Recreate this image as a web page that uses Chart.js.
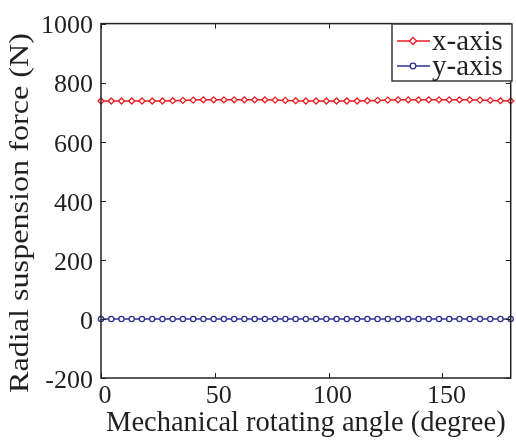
<!DOCTYPE html>
<html>
<head>
<meta charset="utf-8">
<script src="https://cdn.jsdelivr.net/npm/chart.js@4"></script>
<style>
  html, body { margin: 0; padding: 0; background: #fff; }
  #wrap { width: 516px; height: 441px; }
</style>
</head>
<body>
<div id="wrap"><canvas id="forceChart" width="516" height="441"></canvas></div>
<script>
// Radial suspension force vs mechanical rotating angle
const angles = [0, 4.5, 9, 13.5, 18, 22.5, 27, 31.5, 36, 40.5, 45, 49.5, 54, 58.5, 63, 67.5, 72, 76.5, 81, 85.5,
    90, 94.5, 99, 103.5, 108, 112.5, 117, 121.5, 126, 130.5, 135, 139.5, 144, 148.5, 153, 157.5, 162, 166.5, 171, 175.5, 180];
const forceX = [738, 738, 738, 738, 738, 738, 738, 739, 740, 741, 742, 742, 742, 742, 742, 742, 742, 741, 740, 739,
    738, 738, 738, 738, 738, 738, 739, 740, 741, 742, 742, 742, 742, 742, 742, 742, 742, 741, 740, 739, 738];
const forceY = [0, 0, 0, 0, 0, 0, 0, 0, 0, 0, 0, 0, 0, 0, 0, 0, 0, 0, 0, 0,
    0, 0, 0, 0, 0, 0, 0, 0, 0, 0, 0, 0, 0, 0, 0, 0, 0, 0, 0, 0, 0];
const xTicks = [0, 50, 100, 150];
const yTicks = [-200, 0, 200, 400, 600, 800, 1000];
const seriesNames = ['x-axis', 'y-axis'];
const yTitle = 'Radial suspension force (N)';

const FONT = '"Liberation Serif", "Times New Roman", serif';
const INK = '#231f20';
const RED = '#ed1c24';
const BLUE = '#2e3192';

// box around the plot + inward ticks on all four sides
const frameTicks = {
    id: 'frameTicks',
    afterDatasetsDraw(chart) {
        const { ctx, chartArea: a, scales } = chart;
        ctx.save();
        ctx.strokeStyle = INK;
        ctx.lineWidth = 1.5;
        ctx.strokeRect(a.left, a.top, a.right - a.left, a.bottom - a.top);
        ctx.lineWidth = 1;
        ctx.beginPath();
        xTicks.forEach((v) => {
            const px = Math.round(scales.x.getPixelForValue(v)) + 0.5;
            ctx.moveTo(px, a.bottom); ctx.lineTo(px, a.bottom - 5);
            ctx.moveTo(px, a.top); ctx.lineTo(px, a.top + 5);
        });
        yTicks.forEach((v) => {
            const py = Math.round(scales.y.getPixelForValue(v)) + 0.5;
            ctx.moveTo(a.left, py); ctx.lineTo(a.left + 5, py);
            ctx.moveTo(a.right, py); ctx.lineTo(a.right - 5, py);
        });
        ctx.stroke();
        ctx.restore();
    },
};

// y title is drawn by hand: the source figure was stretched vertically
const stretchedTitle = {
    id: 'stretchedTitle',
    afterDraw(chart) {
        const { ctx } = chart;
        ctx.save();
        ctx.font = '28px ' + FONT;
        ctx.fillStyle = INK;
        ctx.textAlign = 'center';
        ctx.textBaseline = 'alphabetic';
        const w = ctx.measureText(yTitle).width;
        ctx.translate(28, 213);
        ctx.rotate(-Math.PI / 2);
        ctx.scale(360 / w, 1);
        ctx.fillText(yTitle, 0, 0);
        ctx.restore();
    },
};

// matlab-style legend box in the top right corner
const boxLegend = {
    id: 'boxLegend',
    afterDraw(chart) {
        const { ctx } = chart;
        const bx = 392, by = 24, bw = 120, bh = 57;
        ctx.save();
        ctx.fillStyle = '#fff';
        ctx.fillRect(bx, by, bw, bh);
        ctx.strokeStyle = '#3a3a3a';
        ctx.lineWidth = 1.5;
        ctx.strokeRect(bx, by, bw, bh);
        chart.data.datasets.forEach((ds, i) => {
            const y = 41 + i * 25;
            ctx.strokeStyle = ds.borderColor;
            ctx.lineWidth = 1.5;
            ctx.beginPath();
            ctx.moveTo(397, y); ctx.lineTo(430, y);
            ctx.stroke();
            ctx.fillStyle = '#fff';
            ctx.lineWidth = 1.3;
            ctx.beginPath();
            if (ds.pointStyle === 'rectRot') {
                ctx.moveTo(413, y - 3.5); ctx.lineTo(416.5, y); ctx.lineTo(413, y + 3.5); ctx.lineTo(409.5, y);
                ctx.closePath();
            } else {
                ctx.arc(413, y, 2.8, 0, Math.PI * 2);
            }
            ctx.fill();
            ctx.stroke();
            ctx.fillStyle = INK;
            ctx.font = '29px ' + FONT;
            ctx.textBaseline = 'middle';
            ctx.fillText(ds.label, 432, y + 1);
        });
        ctx.restore();
    },
};

function makeSet(label, ys, color, style, radius) {
    return {
        label,
        data: angles.map((a, i) => ({ x: a, y: ys[i] })),
        showLine: true,
        fill: false,
        borderColor: color,
        backgroundColor: color,
        borderWidth: 1.5,
        pointStyle: style,
        pointRadius: radius,
        pointBorderWidth: 1.3,
        pointBorderColor: color,
        pointBackgroundColor: '#fff',
        tension: 0,
        clip: 6,
    };
}

new Chart(document.getElementById('forceChart'), {
    type: 'line',
    data: {
        datasets: [
            makeSet(seriesNames[0], forceX, RED, 'rectRot', 3),
            makeSet(seriesNames[1], forceY, BLUE, 'circle', 2.6),
        ],
    },
    options: {
        responsive: false,
        animation: false,
        layout: { padding: { left: 0, right: 2, top: 19, bottom: 0 } },
        plugins: {
            legend: { display: false },
            tooltip: { enabled: false },
        },
        scales: {
            x: {
                type: 'linear',
                min: 0,
                max: 180,
                afterBuildTicks: (s) => { s.ticks = xTicks.map((v) => ({ value: v })); },
                afterFit: (s) => { s.height = 63; },
                grid: { display: false, drawTicks: false },
                border: { display: false },
                ticks: { color: INK, font: { family: FONT, size: 26 }, padding: 3, maxRotation: 0,
                    labelOffset: 4, callback: (v) => String(v) },
                title: {
                    display: true,
                    text: 'Mechanical rotating angle (degree)',
                    color: INK,
                    font: { family: FONT, size: 28.5 },
                    padding: { top: 2, bottom: 0 },
                },
            },
            y: {
                type: 'linear',
                min: -200,
                max: 1000,
                afterBuildTicks: (s) => { s.ticks = yTicks.map((v) => ({ value: v })); },
                afterFit: (s) => { s.width = 101; },
                grid: { display: false, drawTicks: false },
                border: { display: false },
                ticks: { color: INK, font: { family: FONT, size: 26 }, padding: 8,
                    labelOffset: 3, callback: (v) => String(v) },
                title: { display: false },
            },
        },
    },
    plugins: [frameTicks, stretchedTitle, boxLegend],
});
</script>
</body>
</html>
